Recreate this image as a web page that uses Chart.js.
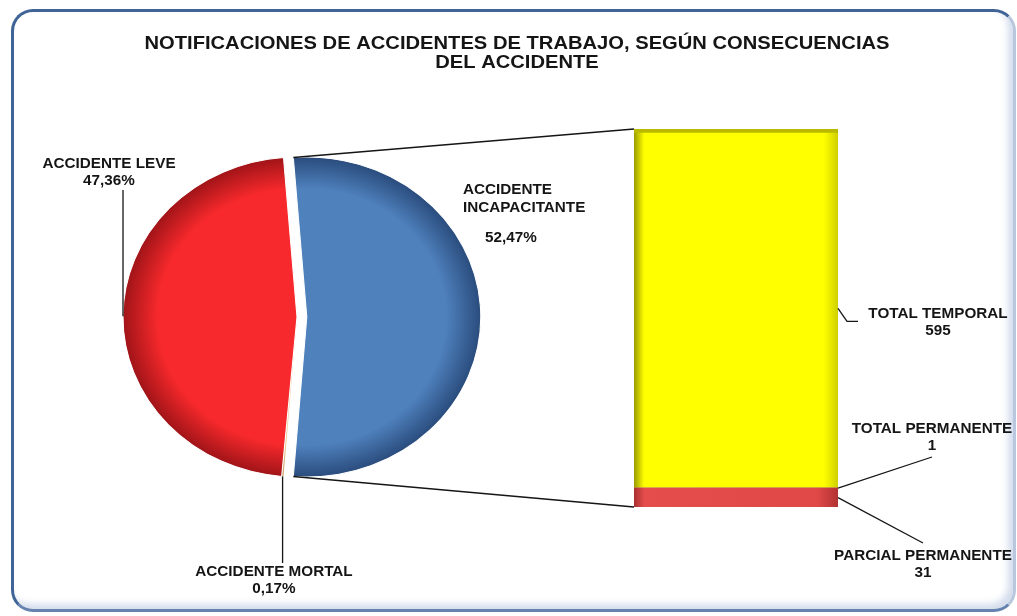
<!DOCTYPE html>
<html>
<head>
<meta charset="utf-8">
<script src="https://cdn.jsdelivr.net/npm/chart.js@4/dist/chart.umd.min.js"></script>
<style>
    body { margin: 0; background: #ffffff; overflow: hidden; }
    #stage { position: relative; width: 1017px; height: 616px; }
    #frame {
        position: absolute; left: 11px; top: 9px;
        width: 1005px; height: 603px; box-sizing: border-box;
        border: 3.5px solid #3f6495;
        border-right-color: #b8c7dd; border-bottom-color: #6683b0;
        border-radius: 22px;
        box-shadow: inset -5px -5px 7px rgba(130, 155, 200, 0.35);
    }
    canvas { position: absolute; left: 0; top: 0; }
</style>
</head>
<body>
<div id="stage">
    <div id="frame"></div>
    <canvas id="barChart" width="1017" height="616"></canvas>
    <canvas id="pieChart" width="1017" height="616"></canvas>
</div>
<script>
/*
------------------------------------------------------------
Datos
------------------------------------------------------------
*/

const titleLines = [
    "NOTIFICACIONES DE ACCIDENTES DE TRABAJO, SEGÚN CONSECUENCIAS",
    "DEL ACCIDENTE"
];

const pieLabels = ["ACCIDENTE INCAPACITANTE", "ACCIDENTE MORTAL", "ACCIDENTE LEVE"];
const piePercents = [52.47, 0.17, 47.36];

// desglose de accidente incapacitante (de abajo hacia arriba)
const barLabels = ["PARCIAL PERMANENTE", "TOTAL PERMANENTE", "TOTAL TEMPORAL"];
const barValues = [31, 1, 595];

/*
------------------------------------------------------------
Estilo
------------------------------------------------------------
*/

const PIE_RADIUS = 160;
const PIE_STRETCH = 1.0875;     // la imagen original está algo estirada en horizontal
const TEXT_STRETCH = 1.09;
const PIE_EXPLODE = [9, 0, 0];
const PIE_COLORS = [["#4f81bd", "#2a4c7d"], ["#e9c896", "#c9a26a"], ["#f7292c", "#a01418"]];
const FONT = '"Liberation Sans", Arial, sans-serif';
const INK = "#151515";

const pct = v => v.toFixed(2).replace(".", ",") + "%";

function stretchedText(ctx, text, x, y, size, align) {
    ctx.save();
    ctx.font = `bold ${size}px ${FONT}`;
    ctx.fillStyle = INK;
    ctx.textAlign = align || "center";
    ctx.textBaseline = "middle";
    ctx.translate(x, y);
    ctx.scale(TEXT_STRETCH, 1);
    ctx.fillText(text, 0, 0);
    ctx.restore();
}

function polyline(ctx, pts) {
    ctx.save();
    ctx.strokeStyle = INK;
    ctx.lineWidth = 1.3;
    ctx.beginPath();
    pts.forEach((p, i) => i ? ctx.lineTo(p[0], p[1]) : ctx.moveTo(p[0], p[1]));
    ctx.stroke();
    ctx.restore();
}

// sombreado radial tipo Excel para cada porción
function pieShade(context) {
    const [base, rim] = PIE_COLORS[context.dataIndex] || PIE_COLORS[0];
    const area = context.chart.chartArea;
    if (!area) return base;
    const cx = (area.left + area.right) / 2;
    const cy = (area.top + area.bottom) / 2;
    const g = context.chart.ctx.createRadialGradient(cx, cy, 0, cx, cy, PIE_RADIUS);
    g.addColorStop(0, base);
    g.addColorStop(0.8, base);
    g.addColorStop(1, rim);
    return g;
}

function barShade(stops) {
    return (context) => {
        const area = context.chart.chartArea;
        if (!area) return stops[1][1];
        const g = context.chart.ctx.createLinearGradient(area.left, 0, area.right, 0);
        stops.forEach(s => g.addColorStop(s[0], s[1]));
        return g;
    };
}

/*
------------------------------------------------------------
Barra apilada (desglose)
------------------------------------------------------------
*/

const barChart = new Chart(document.getElementById("barChart"), {
    type: "bar",
    data: {
        labels: ["ACCIDENTE INCAPACITANTE"],
        datasets: barLabels.map((label, i) => ({
            label: label,
            data: [barValues[i]],
            backgroundColor: [
                barShade([[0, "#a83030"], [0.05, "#e54c4c"], [0.9, "#e04848"], [1, "#b23232"]]),
                barShade([[0, "#9c3a36"], [0.05, "#c0504d"], [1, "#a5403d"]]),
                barShade([[0, "#9a9a00"], [0.05, "#ffff00"], [0.93, "#ffff00"], [1, "#cfcf00"]])
            ][i],
            borderColor: ["#c03a3a", "#a5403d", "#b9b900"][i],
            borderWidth: [0, 0, { top: 4 }][i],
            borderSkipped: false,
            barPercentage: 1,
            categoryPercentage: 1
        }))
    },
    options: {
        responsive: false,
        animation: false,
        layout: { padding: { left: 634, right: 179, top: 129, bottom: 109 } },
        plugins: { legend: { display: false }, tooltip: { enabled: false } },
        scales: {
            x: { stacked: true, display: false },
            y: {
                stacked: true, display: false, min: 0,
                max: barValues.reduce((a, b) => a + b, 0)
            }
        }
    }
});

/*
------------------------------------------------------------
Torta principal + rótulos y líneas
------------------------------------------------------------
*/

const pieTotal = piePercents.reduce((a, b) => a + b, 0);

function rimPoint(arc, i, angle) {
    const mid = (arc.startAngle + arc.endAngle) / 2;
    const px = arc.x + PIE_EXPLODE[i] * Math.cos(mid) + arc.outerRadius * Math.cos(angle);
    const py = arc.y + PIE_EXPLODE[i] * Math.sin(mid) + arc.outerRadius * Math.sin(angle);
    return [arc.x + (px - arc.x) * PIE_STRETCH, py];
}

const pieDraw = {
    id: "pieDraw",
    beforeDatasetsDraw(chart) {
        const ctx = chart.ctx;
        const arcs = chart.getDatasetMeta(0).data;
        const cx = arcs[0].x, cy = arcs[0].y;
        ctx.save();
        ctx.translate(cx, cy);
        ctx.scale(PIE_STRETCH, 1);
        ctx.translate(-cx, -cy);
        arcs.forEach((arc, i) => {
            const mid = (arc.startAngle + arc.endAngle) / 2;
            ctx.save();
            ctx.translate(PIE_EXPLODE[i] * Math.cos(mid), PIE_EXPLODE[i] * Math.sin(mid));
            arc.draw(ctx, chart.chartArea);
            ctx.restore();
        });
        ctx.restore();
        return false;
    },
    afterDraw(chart) {
        const ctx = chart.ctx;
        const arcs = chart.getDatasetMeta(0).data;

        // título
        stretchedText(ctx, titleLines[0], 517, 44, 18.5);
        stretchedText(ctx, titleLines[1], 517, 63, 18.5);

        // líneas de la porción incapacitante hacia la barra
        const inc = arcs[0];
        const top = barChart.getDatasetMeta(barValues.length - 1).data[0];
        const bottom = barChart.getDatasetMeta(0).data[0];
        const barLeft = top.x - top.width / 2;
        const barRight = top.x + top.width / 2;
        polyline(ctx, [rimPoint(inc, 0, inc.startAngle), [barLeft, top.y]]);
        polyline(ctx, [rimPoint(inc, 0, inc.endAngle), [barLeft, bottom.base]]);

        // incapacitante
        const incWords = pieLabels[0].split(" ");
        stretchedText(ctx, incWords[0], 463, 190, 14, "left");
        stretchedText(ctx, incWords[1], 463, 208, 14, "left");
        stretchedText(ctx, pct(piePercents[0]), 511, 238, 14);

        // mortal
        const mor = arcs[1];
        const mp = rimPoint(mor, 1, (mor.startAngle + mor.endAngle) / 2);
        polyline(ctx, [mp, [mp[0], 563]]);
        stretchedText(ctx, pieLabels[1], 274, 572, 14);
        stretchedText(ctx, pct(piePercents[1]), 274, 589, 14);

        // leve
        const lev = arcs[2];
        const lp = rimPoint(lev, 2, (lev.startAngle + lev.endAngle) / 2);
        polyline(ctx, [lp, [lp[0], 190]]);
        stretchedText(ctx, pieLabels[2], 109, 164, 14);
        stretchedText(ctx, pct(piePercents[2]), 109, 181, 14);

        // rótulos de la barra
        const seg = i => {
            const b = barChart.getDatasetMeta(i).data[0];
            return (b.y + b.base) / 2;
        };
        const tY = seg(2), pY = seg(1), cY = seg(0);
        polyline(ctx, [[barRight, tY], [barRight + 9, tY + 13], [barRight + 20, tY + 13]]);
        stretchedText(ctx, barLabels[2], 938, 314, 14);
        stretchedText(ctx, String(barValues[2]), 938, 331, 14);

        polyline(ctx, [[barRight, pY], [932, 457]]);
        stretchedText(ctx, barLabels[1], 932, 429, 14);
        stretchedText(ctx, String(barValues[1]), 932, 446, 14);

        polyline(ctx, [[barRight, cY], [923, 543]]);
        stretchedText(ctx, barLabels[0], 923, 556, 14);
        stretchedText(ctx, String(barValues[0]), 923, 573, 14);
    }
};

const pieChart = new Chart(document.getElementById("pieChart"), {
    type: "pie",
    data: {
        labels: pieLabels,
        datasets: [{
            data: piePercents,
            radius: PIE_RADIUS,
            backgroundColor: pieShade,
            borderColor: "#ffffff",
            borderWidth: [1, 0, 1],
            hoverOffset: 0
        }]
    },
    options: {
        responsive: false,
        animation: false,
        // porción incapacitante centrada hacia la derecha (hacia la barra)
        rotation: 90 - (piePercents[0] / pieTotal) * 180,
        layout: { padding: { left: 97, right: 520, top: 117, bottom: 99 } },
        plugins: { legend: { display: false }, tooltip: { enabled: false } }
    },
    plugins: [pieDraw]
});
</script>
</body>
</html>
